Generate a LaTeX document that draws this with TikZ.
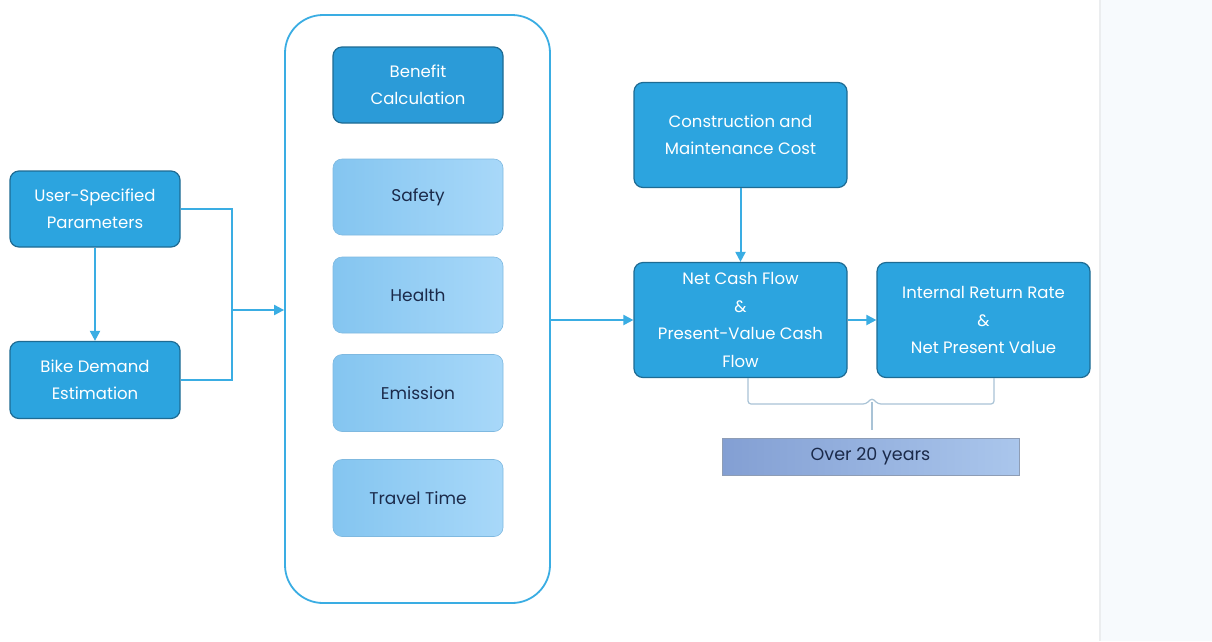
\documentclass[tikz,border=0pt]{standalone}
\usepackage{fontspec}
\setmainfont{Poppins}
\usetikzlibrary{arrows.meta,calc}
\definecolor{boxblue}{HTML}{2CA4DF}
\definecolor{boxdark}{HTML}{2B9BD8}
\definecolor{boxedge}{HTML}{1E6B93}
\definecolor{lineblue}{HTML}{3AADE3}
\definecolor{lightL}{HTML}{84C5F0}
\definecolor{lightR}{HTML}{A8D8F9}
\definecolor{lightedge}{HTML}{7FB9E0}
\definecolor{slateL}{HTML}{839FD3}
\definecolor{slateR}{HTML}{AAC6EC}
\definecolor{slateedge}{HTML}{8E9DB5}
\definecolor{txtdark}{HTML}{1B2A4A}
\definecolor{panel}{HTML}{F7FAFD}
\definecolor{panelline}{HTML}{EBEDEF}
\definecolor{bracec}{HTML}{A9C3D6}
\tikzset{
  x=1pt,y=-1pt,
  mainbox/.style={draw=boxedge, line width=1.2pt, fill=boxblue, rounded corners=9pt,
    text=white, font=\fontsize{16.5}{27.5}\selectfont, align=center, inner sep=0pt},
  lightbox/.style={draw=lightedge, line width=0.6pt, left color=lightL, right color=lightR,
    rounded corners=9pt, text=txtdark, font=\fontsize{17}{27}\selectfont, align=center, inner sep=0pt},
  conn/.style={draw=lineblue, line width=2pt},
  arr/.style={conn, -{Triangle[length=10pt,width=10pt]}},
}
\begin{document}
\begin{tikzpicture}
\useasboundingbox (0,0) rectangle (1212,641);
\fill[white] (0,0) rectangle (1212,641);
% right panel
\fill[panel] (1100,0) rectangle (1212,641);
\draw[panelline, line width=2.5pt] (1100,0) -- (1100,641);

% left boxes
\node[mainbox, minimum width=170pt, minimum height=76pt] (ups) at (95,209) {User-Specified\\Parameters};
\node[mainbox, minimum width=170pt, minimum height=77pt] (bde) at (95,380) {Bike Demand\\Estimation};

% container
\node[draw=lineblue, line width=1.8pt, rounded corners=38pt, minimum width=265pt, minimum height=588pt, inner sep=0pt] (cont) at (417.5,309) {};

% inner boxes
\node[mainbox, fill=boxdark, minimum width=170pt, minimum height=76pt] (ben) at (418,85) {Benefit\\Calculation};
\node[lightbox, minimum width=170pt, minimum height=76pt] (saf) at (418,197) {Safety};
\node[lightbox, minimum width=170pt, minimum height=76pt] (hea) at (418,295) {Health};
\node[lightbox, minimum width=170pt, minimum height=77pt] (emi) at (418,393) {Emission};
\node[lightbox, minimum width=170pt, minimum height=77pt] (tra) at (418,498) {Travel Time};

% right boxes
\node[mainbox, minimum width=213pt, minimum height=105pt] (con) at (740.5,135) {Construction and\\Maintenance Cost};
\node[mainbox, minimum width=213pt, minimum height=115pt] (ncf) at (740.5,320) {Net Cash Flow\\\&\\Present-Value Cash\\Flow};
\node[mainbox, minimum width=213pt, minimum height=115pt] (irr) at (983.5,320) {Internal Return Rate\\\&\\Net Present Value};

% over 20 years
\node[draw=slateedge, line width=0.6pt, left color=slateL, right color=slateR, minimum width=297pt, minimum height=37pt, inner sep=0pt, text=txtdark, font=\fontsize{17.5}{20}\selectfont] (over) at (870.5,456.5) {Over 20 years};

% connectors
\draw[arr] (ups.south) -- (bde.north);
\coordinate (jx) at (232,310);
\draw[conn] (ups.east) -| (jx);
\draw[conn] (bde.east) -| (jx);
\draw[arr] (jx) -- (cont.west |- jx);
\draw[arr] (cont.east |- ncf.west) -- (ncf.west);
\draw[arr] (con.south) -- (ncf.north);
\draw[arr] (ncf.east) -- (irr.west);

% brace
\coordinate (bl) at (748,378);
\coordinate (br) at (994,378);
\draw[draw=bracec, line width=1.2pt, rounded corners=3pt]
  (bl) -- (748,404) -- (866,404) -- (872,398) -- (878,404) -- (994,404) -- (br);
\draw[draw=bracec, line width=1.2pt] (872,402) -- (872,430);
\end{tikzpicture}
\end{document}
